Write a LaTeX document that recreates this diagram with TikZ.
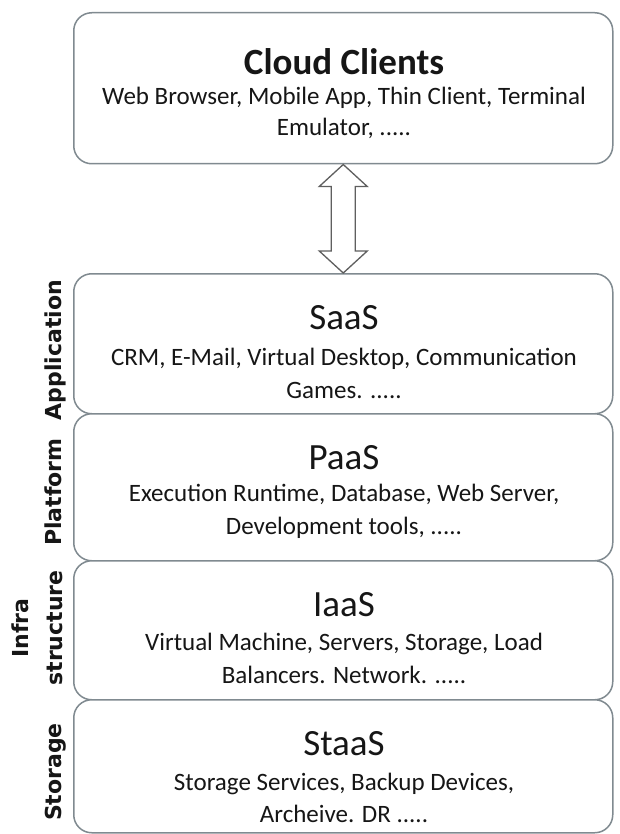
\documentclass[tikz,border=0pt]{standalone}
\usepackage{fontspec}
\setmainfont{Carlito}
\newfontfamily\sidefont{DejaVu Sans}
\usetikzlibrary{calc}
\definecolor{edge}{RGB}{128,138,144}
\definecolor{arrowc}{RGB}{95,95,95}
\definecolor{ink}{RGB}{22,22,22}
\begin{document}
\begin{tikzpicture}[x=1pt,y=-1pt,
 box/.style={draw=edge, line width=1.5pt, rounded corners=18pt, fill=white, inner sep=0pt, minimum width=539pt, anchor=north west},
 ttl/.style={anchor=base, font=\fontsize{37}{40}\selectfont, text=ink, inner sep=0pt},
 bodytxt/.style={anchor=base, font=\fontsize{25}{30}\selectfont, text=ink, inner sep=0pt},
 side/.style={rotate=90, anchor=base, font=\sidefont\bfseries\fontsize{22}{24}\selectfont, text=ink, inner sep=0pt},
 dbl/.style={draw=arrowc, line width=1.3pt, fill=white, line join=miter},
]
\useasboundingbox (0,0) rectangle (619,834);
\fill[white] (0,0) rectangle (619,834);

% boxes
\node[box, minimum height=151pt] (cc) at (73,12) {};
\node[box, minimum height=140pt] (saas) at (73,273) {};
\node[box, minimum height=147pt] (paas) at (73,413) {};
\node[box, minimum height=139pt] (iaas) at (73,560) {};
\node[box, minimum height=133pt] (staas) at (73,699) {};

% double arrow between Cloud Clients and SaaS
\draw[dbl] (cc.south) -- ($(cc.south)+(24,22)$) -- ($(cc.south)+(12,22)$)
  -- ($(saas.north)+(12,-22)$) -- ($(saas.north)+(24,-22)$) -- (saas.north)
  -- ($(saas.north)+(-24,-22)$) -- ($(saas.north)+(-12,-22)$)
  -- ($(cc.south)+(-12,22)$) -- ($(cc.south)+(-24,22)$) -- cycle;

% texts
\node[ttl, font=\bfseries\fontsize{37}{40}\selectfont] (cct) at (344,75) {Cloud Clients};
\node[bodytxt] (cc1) at (344,105) {Web Browser, Mobile App, Thin Client, Terminal};
\node[bodytxt] (cc2) at (344,136) {Emulator, .....};

\node[ttl] (saast) at (344,329) {SaaS};
\node[bodytxt] (saas1) at (344,365) {CRM, E-Mail, Virtual Desktop, Communication};
\node[bodytxt] (saas2) at (344,398) {Games. .....};

\node[ttl] (paast) at (344,469) {PaaS};
\node[bodytxt] (paas1) at (344,501) {Execution Runtime, Database, Web Server,};
\node[bodytxt] (paas2) at (344,534) {Development tools, .....};

\node[ttl] (iaast) at (344,616) {IaaS};
\node[bodytxt] (iaas1) at (344,650) {Virtual Machine, Servers, Storage, Load};
\node[bodytxt] (iaas2) at (344,683) {Balancers. Network. .....};

\node[ttl] (staast) at (344,755) {StaaS};
\node[bodytxt] (staas1) at (344,790) {Storage Services, Backup Devices,};
\node[bodytxt] (staas2) at (344,822) {Archeive. DR .....};

% side labels
\node[side] (lapp) at (61,350) {Application};
\node[side] (lplat) at (61,492) {Platform};
\node[side] (linfra) at (28,628) {Infra};
\node[side] (lstruct) at (62,628) {structure};
\node[side] (lsto) at (61,772) {Storage};
\end{tikzpicture}
\end{document}
